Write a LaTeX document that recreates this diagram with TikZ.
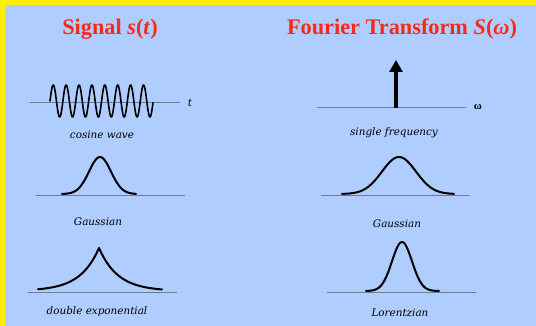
\documentclass[tikz,border=0pt]{standalone}
\usepackage{fontspec}
\setmainfont{Liberation Serif}
\newfontfamily\labfont{DejaVu Serif}
\usetikzlibrary{arrows.meta}
\definecolor{bgblue}{RGB}{175,205,255}
\definecolor{frameyellow}{RGB}{255,240,0}
\definecolor{titlered}{RGB}{250,40,20}
\definecolor{axisgray}{RGB}{110,125,150}
\tikzset{
  title/.style={text=titlered, font=\fontsize{22.3}{25}\selectfont\bfseries, inner sep=0pt},
  lab/.style={font=\labfont\itshape\fontsize{10.4}{12}\selectfont, inner sep=0pt},
  axis/.style={draw=axisgray, line width=0.8pt},
  curve/.style={draw=black, line width=2pt, line join=round, line cap=round},
}
\begin{document}
\begin{tikzpicture}[x=1pt,y=-1pt]
\useasboundingbox (0,0) rectangle (536,326);
\fill[frameyellow] (0,0) rectangle (536,326);
\fill[bgblue] (5,5) rectangle (536,326);
% titles
\node[title] (t1) at (110,29) {Signal \textit{s}(\textit{t})};
\node[title] (t2) at (402,29) {Fourier Transform \textit{S}(\textit{ω})};
% ---- left column
\coordinate (a1l) at (30,102); \coordinate (a1r) at (180,102);
\draw[axis] (a1l) -- (a1r);
\draw[curve, line width=1.6pt] plot[domain=50:153, samples=300] (\x, {101 - 16*sin((\x-50)/12.9*360)});
\node[lab] (tl) at (190,103) {t};
\node[lab] (l1) at (102,135) {cosine wave};

\coordinate (a2l) at (36,195); \coordinate (a2r) at (185,195);
\draw[axis] (a2l) -- (a2r);
\draw[curve] plot[domain=62:136, samples=80] (\x, {194 - 37*exp(-(\x-100)*(\x-100)/(2*11*11))});
\node[lab] (l2) at (98,222) {Gaussian};

\coordinate (a3l) at (28,292); \coordinate (a3r) at (177,292);
\draw[axis] (a3l) -- (a3r);
\draw[curve] plot[domain=38:99, samples=80] (\x, {291 - 43*exp(-(99-\x)/19)})
  -- plot[domain=99:162, samples=80] (\x, {291 - 43*exp(-(\x-99)/19)});
\node[lab] (l3) at (97,312) {double exponential};
% ---- right column
\coordinate (b1l) at (317,107); \coordinate (b1r) at (466,107);
\draw[axis] (b1l) -- (b1r);
\coordinate (arrB) at (396,108); \coordinate (arrT) at (396,60);
\draw[line width=3.5pt, -{Triangle[width=13pt,length=12pt]}] (arrB) -- (arrT);
\node[font=\bfseries\fontsize{11}{12}\selectfont, inner sep=0pt] (om) at (478,107) {ω};
\node[lab] (r1) at (394,133) {single frequency};

\coordinate (b2l) at (321,195); \coordinate (b2r) at (470,195);
\draw[axis] (b2l) -- (b2r);
\draw[curve] plot[domain=342:454, samples=80] (\x, {194 - 37*exp(-(\x-399)*(\x-399)/(2*17*17))});
\node[lab] (r2) at (397,224) {Gaussian};

\coordinate (b3l) at (327,292); \coordinate (b3r) at (476,292);
\draw[axis] (b3l) -- (b3r);
\draw[curve] plot[domain=366:439, samples=80] (\x, {291 - 49*exp(-(\x-402)*(\x-402)/(2*10*10))});
\node[lab] (r3) at (400,313) {Lorentzian};
\end{tikzpicture}
\end{document}
